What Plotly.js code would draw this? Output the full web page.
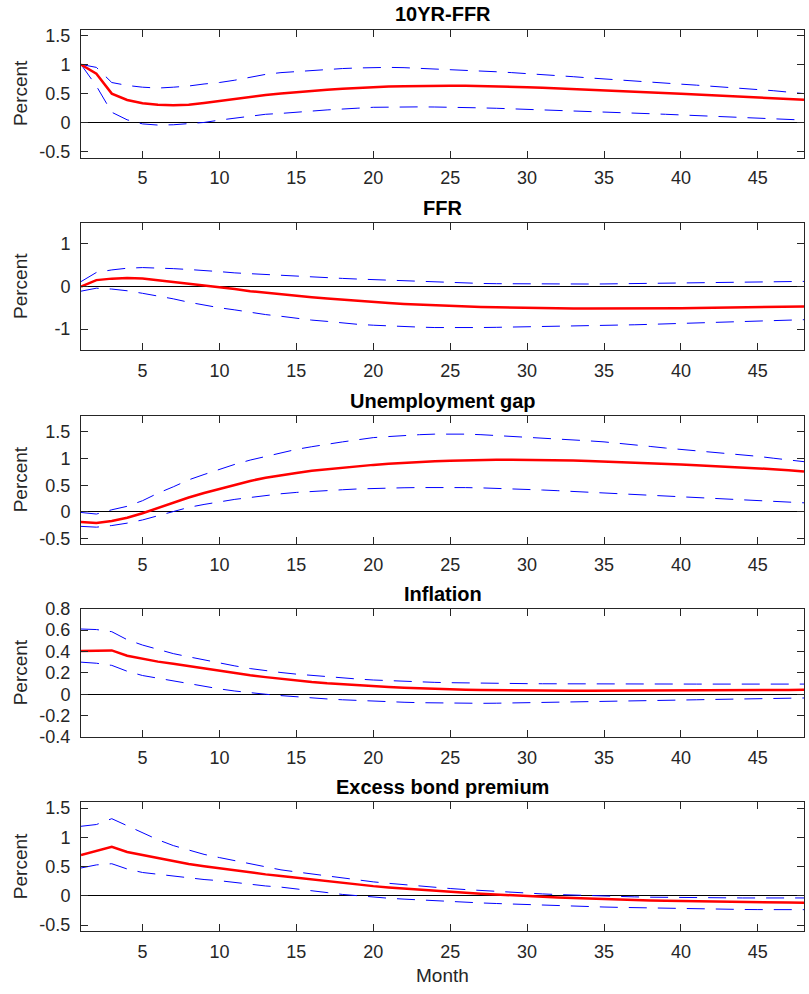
<!DOCTYPE html>
<html>
<head>
<meta charset="utf-8">
<script src="https://cdn.plot.ly/plotly-3.0.1.min.js"></script>
<style>html,body{margin:0;padding:0;background:#fff;}#chart{width:809px;height:994px;}</style>
</head>
<body>
<div id="chart"></div>
<script>
const months = Array.from({length: 48}, (_, i) => i + 1);
const titles = ["10YR-FFR", "FFR", "Unemployment gap", "Inflation", "Excess bond premium"];
const xLabel = "Month";
const yLabel = "Percent";

// 10YR-FFR
const spreadIrf = [1.00,0.84,0.50,0.39,0.335,0.31,0.30,0.31,0.34,0.375,0.41,0.445,0.475,0.50,0.525,0.55,0.567,0.584,0.60,0.61,0.62,0.627,0.632,0.635,0.635,0.633,0.63,0.625,0.618,0.61,0.60,0.59,0.58,0.57,0.558,0.546,0.534,0.522,0.51,0.498,0.486,0.474,0.462,0.45,0.438,0.424,0.41,0.395];
const spreadUp = [1.00,0.95,0.69,0.64,0.61,0.595,0.61,0.63,0.665,0.69,0.73,0.78,0.83,0.86,0.88,0.90,0.92,0.93,0.94,0.95,0.95,0.945,0.935,0.925,0.91,0.90,0.89,0.875,0.86,0.845,0.83,0.81,0.79,0.77,0.75,0.732,0.715,0.697,0.68,0.662,0.645,0.627,0.61,0.592,0.575,0.55,0.525,0.50];
const spreadLo = [1.00,0.63,0.18,0.05,-0.02,-0.04,-0.035,-0.02,0.005,0.045,0.075,0.115,0.145,0.16,0.185,0.20,0.22,0.23,0.25,0.265,0.27,0.272,0.272,0.27,0.268,0.262,0.255,0.248,0.24,0.232,0.223,0.214,0.205,0.195,0.185,0.175,0.165,0.155,0.145,0.135,0.125,0.115,0.105,0.095,0.085,0.07,0.058,0.046];

// FFR
const ffrIrf = [0.0,0.15,0.185,0.20,0.19,0.15,0.115,0.077,0.03,-0.015,-0.06,-0.11,-0.15,-0.19,-0.225,-0.255,-0.285,-0.315,-0.345,-0.37,-0.39,-0.41,-0.427,-0.442,-0.456,-0.468,-0.48,-0.49,-0.498,-0.505,-0.51,-0.514,-0.517,-0.519,-0.52,-0.52,-0.519,-0.517,-0.514,-0.51,-0.505,-0.50,-0.495,-0.49,-0.485,-0.48,-0.475,-0.47];
const ffrUp = [0.115,0.33,0.39,0.43,0.445,0.44,0.42,0.40,0.38,0.35,0.32,0.30,0.28,0.255,0.24,0.22,0.205,0.19,0.175,0.16,0.145,0.13,0.115,0.10,0.09,0.08,0.072,0.066,0.062,0.06,0.058,0.057,0.057,0.058,0.06,0.064,0.068,0.073,0.079,0.085,0.091,0.096,0.10,0.105,0.11,0.113,0.117,0.12];
const ffrLo = [-0.11,-0.04,-0.06,-0.10,-0.16,-0.22,-0.29,-0.37,-0.44,-0.50,-0.55,-0.61,-0.66,-0.70,-0.75,-0.79,-0.82,-0.86,-0.89,-0.91,-0.93,-0.945,-0.955,-0.965,-0.97,-0.97,-0.965,-0.96,-0.955,-0.95,-0.945,-0.94,-0.935,-0.928,-0.92,-0.91,-0.90,-0.89,-0.88,-0.87,-0.86,-0.85,-0.84,-0.83,-0.82,-0.81,-0.795,-0.78];

// Unemployment gap
const ugapIrf = [-0.19,-0.205,-0.17,-0.11,-0.025,0.075,0.18,0.27,0.355,0.43,0.51,0.58,0.64,0.69,0.73,0.77,0.80,0.83,0.86,0.88,0.90,0.92,0.935,0.948,0.958,0.966,0.972,0.975,0.976,0.975,0.972,0.967,0.961,0.952,0.943,0.933,0.922,0.91,0.898,0.886,0.873,0.86,0.847,0.834,0.82,0.80,0.78,0.755];
const ugapUp = [-0.01,-0.04,0.04,0.105,0.21,0.35,0.47,0.60,0.70,0.80,0.89,0.97,1.04,1.10,1.17,1.22,1.27,1.31,1.35,1.39,1.41,1.43,1.445,1.455,1.46,1.455,1.445,1.43,1.415,1.395,1.375,1.36,1.345,1.33,1.31,1.285,1.255,1.225,1.195,1.17,1.15,1.125,1.10,1.07,1.04,1.005,0.97,0.94];
const ugapLo = [-0.27,-0.285,-0.255,-0.21,-0.15,-0.075,0.005,0.085,0.14,0.19,0.235,0.27,0.31,0.34,0.365,0.385,0.40,0.415,0.43,0.44,0.447,0.452,0.456,0.458,0.458,0.455,0.45,0.443,0.433,0.422,0.41,0.397,0.383,0.368,0.353,0.34,0.327,0.314,0.30,0.287,0.273,0.26,0.245,0.23,0.215,0.20,0.185,0.17];

// Inflation
const inflIrf = [0.405,0.41,0.41,0.36,0.33,0.305,0.285,0.263,0.24,0.22,0.197,0.178,0.16,0.143,0.127,0.114,0.102,0.092,0.083,0.074,0.067,0.061,0.055,0.05,0.046,0.042,0.039,0.037,0.035,0.034,0.033,0.032,0.032,0.032,0.032,0.032,0.033,0.033,0.034,0.035,0.035,0.036,0.037,0.037,0.038,0.039,0.04,0.041];
const inflUp = [0.61,0.605,0.585,0.51,0.46,0.42,0.38,0.35,0.32,0.29,0.265,0.24,0.22,0.203,0.188,0.175,0.163,0.152,0.142,0.133,0.126,0.12,0.115,0.111,0.108,0.105,0.103,0.101,0.10,0.099,0.098,0.097,0.097,0.096,0.096,0.095,0.095,0.095,0.095,0.095,0.095,0.095,0.095,0.095,0.095,0.095,0.095,0.095];
const inflLo = [0.30,0.29,0.27,0.215,0.175,0.15,0.124,0.10,0.073,0.05,0.03,0.013,0.0,-0.013,-0.025,-0.035,-0.044,-0.052,-0.059,-0.065,-0.07,-0.075,-0.079,-0.082,-0.084,-0.085,-0.085,-0.084,-0.082,-0.08,-0.078,-0.076,-0.073,-0.07,-0.067,-0.064,-0.062,-0.059,-0.057,-0.054,-0.052,-0.049,-0.047,-0.044,-0.042,-0.04,-0.037,-0.035];

// Excess bond premium
const ebpIrf = [0.70,0.775,0.84,0.75,0.70,0.645,0.59,0.546,0.506,0.47,0.437,0.40,0.368,0.34,0.31,0.28,0.253,0.224,0.195,0.167,0.145,0.124,0.104,0.086,0.068,0.052,0.037,0.022,0.008,-0.005,-0.017,-0.028,-0.038,-0.048,-0.057,-0.065,-0.072,-0.078,-0.084,-0.089,-0.094,-0.098,-0.102,-0.105,-0.108,-0.111,-0.113,-0.115];
const ebpUp = [1.19,1.22,1.32,1.20,1.08,0.96,0.86,0.78,0.71,0.655,0.60,0.545,0.495,0.445,0.41,0.375,0.34,0.305,0.27,0.24,0.215,0.19,0.167,0.146,0.126,0.108,0.091,0.075,0.06,0.046,0.034,0.023,0.013,0.004,-0.004,-0.011,-0.017,-0.022,-0.026,-0.029,-0.031,-0.033,-0.034,-0.035,-0.035,-0.035,-0.035,-0.035];
const ebpLo = [0.477,0.53,0.55,0.46,0.40,0.37,0.333,0.31,0.28,0.26,0.23,0.195,0.17,0.15,0.115,0.086,0.057,0.025,0.0,-0.023,-0.04,-0.055,-0.07,-0.085,-0.10,-0.11,-0.12,-0.13,-0.14,-0.15,-0.158,-0.166,-0.174,-0.182,-0.19,-0.196,-0.202,-0.208,-0.214,-0.22,-0.224,-0.227,-0.23,-0.232,-0.234,-0.235,-0.235,-0.235];

const yRanges = [[-0.6,1.6],[-1.5,1.5],[-0.6,1.8],[-0.4,0.8],[-0.6,1.6]];
const yTicks = [[-0.5,0,0.5,1,1.5],[-1,0,1],[-0.5,0,0.5,1,1.5],[-0.4,-0.2,0,0.2,0.4,0.6,0.8],[-0.5,0,0.5,1,1.5]];
const xTicks = [5,10,15,20,25,30,35,40,45];

const series = [
  [spreadIrf, spreadUp, spreadLo],
  [ffrIrf, ffrUp, ffrLo],
  [ugapIrf, ugapUp, ugapLo],
  [inflIrf, inflUp, inflLo],
  [ebpIrf, ebpUp, ebpLo]
];

// layout geometry (pixels)
const H = 994;
const boxTop = [29.5, 222.7, 415.7, 608.7, 802.3];
const boxBot = [157.7, 350.3, 544.0, 737.0, 931.0];
const FONT = "Liberation Sans, Arial, Helvetica, sans-serif";
const AX = "#262626";
const plotW = 809 - 81 - 5;

const traces = [];
const layout = {
  width: 809, height: 994,
  margin: {l: 81, r: 5, t: 0, b: 0, pad: 0},
  paper_bgcolor: "#ffffff", plot_bgcolor: "#ffffff",
  showlegend: false,
  hovermode: false,
  font: {family: FONT, color: AX, size: 18},
  annotations: []
};

series.forEach((s, i) => {
  const n = i === 0 ? "" : String(i + 1);
  const xa = "x" + n, ya = "y" + n;
  [s[1], s[2]].forEach(band => traces.push({
    x: months, y: band, xaxis: xa, yaxis: ya, type: "scatter", mode: "lines",
    line: {color: "#0000ff", width: 1, dash: "18px,11px"}
  }));
  traces.push({
    x: months, y: s[0], xaxis: xa, yaxis: ya, type: "scatter", mode: "lines",
    line: {color: "#ff0000", width: 2.5}
  });
  const dom = [1 - boxBot[i] / H, 1 - boxTop[i] / H];
  layout["xaxis" + n] = {
    domain: [0, 1], anchor: ya, range: [1, 48], tickvals: xTicks,
    ticks: "inside", ticklen: 7, tickwidth: 1, tickcolor: AX,
    showline: true, linecolor: AX, linewidth: 1, mirror: "ticks",
    showgrid: false, zeroline: false,
    tickfont: {family: FONT, size: 18, color: AX},
    ticklabelstandoff: 4
  };
  layout["yaxis" + n] = {
    domain: dom, anchor: xa, range: yRanges[i], tickvals: yTicks[i],
    ticktext: yTicks[i].map(v => String(v)),
    ticks: "inside", ticklen: 7, tickwidth: 1, tickcolor: AX,
    showline: true, linecolor: AX, linewidth: 1, mirror: "ticks",
    showgrid: false, zeroline: true, zerolinecolor: "#000000", zerolinewidth: 1,
    tickfont: {family: FONT, size: 18, color: AX},
    ticklabelstandoff: 6
  };
  layout.annotations.push({
    text: "<b>" + titles[i] + "</b>", xref: "paper", yref: "paper",
    x: 0.5, y: dom[1], xanchor: "center", yanchor: "bottom", yshift: 2,
    showarrow: false, font: {family: FONT, size: 20, color: "#000000"}
  });
  layout.annotations.push({
    text: yLabel, xref: "paper", yref: "paper",
    x: (20.5 - 81) / plotW, y: (dom[0] + dom[1]) / 2, xanchor: "center", yanchor: "middle",
    textangle: -90, showarrow: false, font: {family: FONT, size: 19, color: AX}
  });
});
layout.annotations.push({
  text: xLabel, xref: "paper", yref: "paper",
  x: 0.5, y: 1 - 975 / H, xanchor: "center", yanchor: "middle",
  showarrow: false, font: {family: FONT, size: 19, color: AX}
});

Plotly.newPlot("chart", traces, layout, {staticPlot: true, displayModeBar: false});
</script>
</body>
</html>
